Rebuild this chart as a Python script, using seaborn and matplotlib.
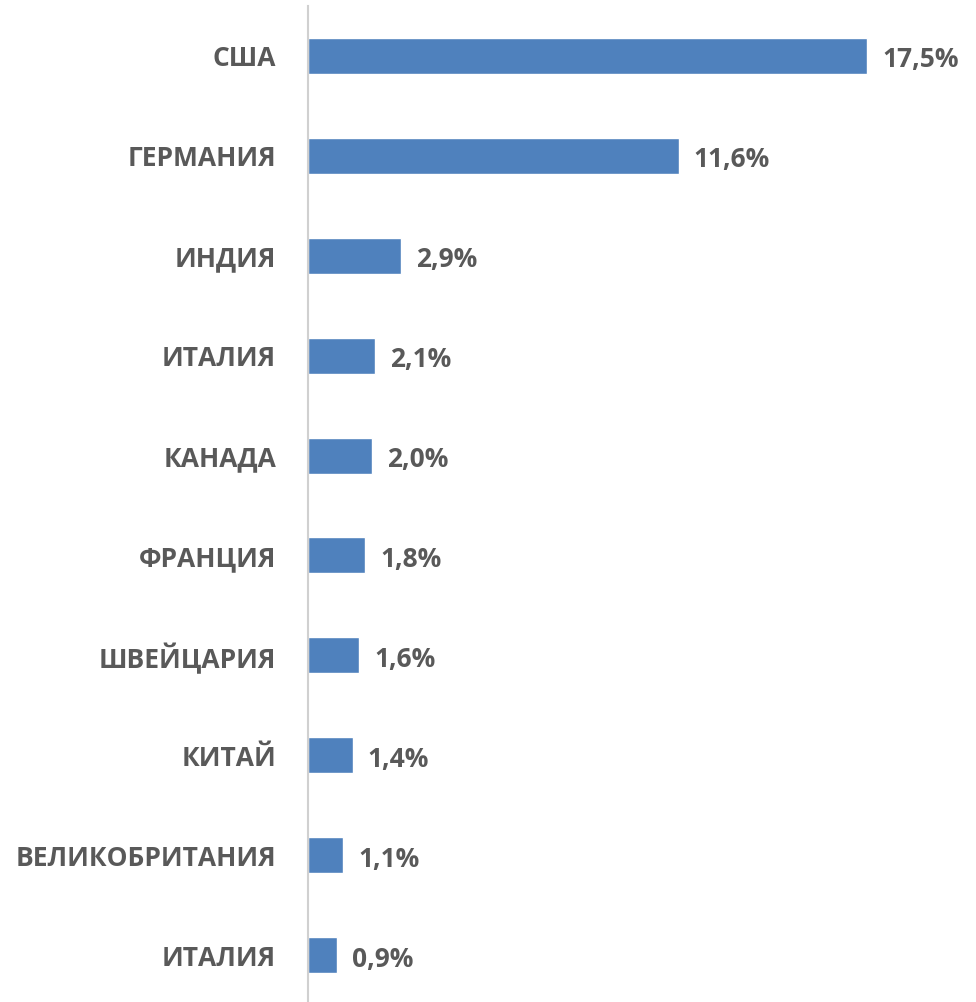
import matplotlib
matplotlib.use("Agg")
import matplotlib.pyplot as plt
import seaborn as sns
import pandas as pd

countries = ["США", "ГЕРМАНИЯ", "ИНДИЯ", "ИТАЛИЯ", "КАНАДА", "ФРАНЦИЯ",
             "ШВЕЙЦАРИЯ", "КИТАЙ", "ВЕЛИКОБРИТАНИЯ", "ИТАЛИЯ "]
values = [17.5, 11.6, 2.9, 2.1, 2.0, 1.8, 1.6, 1.4, 1.1, 0.9]
value_labels = ["17,5%", "11,6%", "2,9%", "2,1%", "2,0%", "1,8%", "1,6%", "1,4%", "1,1%", "0,9%"]

sns.set_theme(style="white")
plt.rcParams['font.family'] = ['Open Sans', 'DejaVu Sans']

df = pd.DataFrame({"country": countries, "value": values})

W, H = 976, 1002
fig = plt.figure(figsize=(W / 100, H / 100), dpi=100)
left = 308 / W
right = 930 / W
ax = fig.add_axes([left, 0, right - left, 996 / H])

sns.barplot(data=df, y="country", x="value", orient="h", color="#4F81BD",
            saturation=1, width=0.36, ax=ax)

px_per_unit = 31.94
ax.set_xlim(0, (930 - 308) / px_per_unit)
ax.set_ylim(9.47, -0.5)

text_color = "#595959"
for i, (v, lab) in enumerate(zip(values, value_labels)):
    ax.text(v + 15 / px_per_unit, i + 0.04, lab, va="center", ha="left",
            fontsize=19, fontweight="bold", color=text_color)

ax.set_yticks(range(len(countries)))
ax.set_yticklabels([c.strip() for c in countries], fontsize=19,
                   fontweight="bold", color=text_color)
ax.tick_params(axis="y", length=0, pad=23)
ax.set_xticks([])
ax.set_xlabel("")
ax.set_ylabel("")
for s in ["top", "right", "bottom"]:
    ax.spines[s].set_visible(False)
ax.spines["left"].set_color("#D0D0D0")
ax.spines["left"].set_linewidth(1.5)

fig.savefig("out.png", dpi=100)
